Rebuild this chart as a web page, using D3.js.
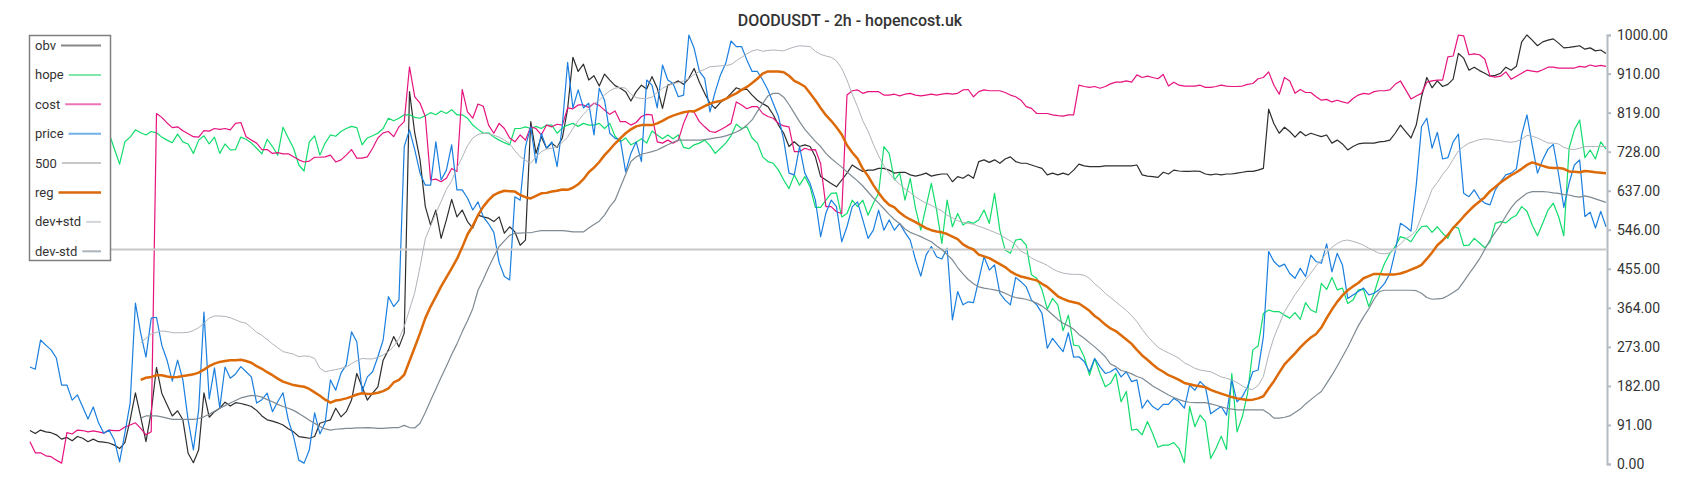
<!DOCTYPE html>
<html>
<head>
<meta charset="utf-8">
<script src="https://cdn.jsdelivr.net/npm/d3@7"></script>
<style>
  body { margin: 0; background: #fff; }
  svg { display: block; font-family: Roboto, "Open Sans", sans-serif; }
</style>
</head>
<body>
<svg width="1700" height="500"></svg>
<script>
var title = "DOODUSDT - 2h - hopencost.uk";

// y axis ticks
var yTicks = [0, 91, 182, 273, 364, 455, 546, 637, 728, 819, 910, 1000];
var level = 500;

// series, one value per 2h candle (300 candles)
var price = [
  226, 221, 289, 277, 266, 247, 184, 184, 149, 161,
  133, 105, 133, 96, 72, 79, 56, 5, 72, 142,
  375, 305, 249, 340, 342, 277, 242, 193, 242, 196,
  103, 33, 126, 354, 152, 224, 131, 226, 200, 210,
  227, 215, 203, 142, 150, 165, 122, 145, 166, 103,
  64, 9, 2, 33, 119, 70, 96, 196, 172, 212,
  231, 308, 285, 169, 203, 215, 250, 289, 390, 367,
  382, 740, 779, 732, 678, 650, 650, 751, 662, 685,
  744, 639, 639, 620, 592, 611, 576, 560, 540, 470,
  437, 429, 623, 615, 740, 786, 701, 771, 736, 751,
  693, 790, 936, 830, 872, 830, 841, 767, 876, 848,
  771, 759, 756, 681, 724, 751, 705, 895, 883, 830,
  930, 895, 887, 856, 860, 1000, 969, 915, 899, 821,
  868, 907, 934, 986, 973, 973, 942, 915, 915, 895,
  872, 841, 810, 755, 678, 674, 740, 678, 654, 615,
  530, 585, 615, 600, 518, 553, 600, 611, 569, 526,
  545, 592, 545, 569, 545, 561, 540, 522, 476, 438,
  487, 507, 483, 478, 503, 336, 402, 371, 378, 376,
  429, 483, 452, 464, 398, 382, 371, 435, 425, 413,
  382, 371, 351, 270, 293, 277, 262, 306, 249, 250,
  239, 215, 246, 227, 211, 215, 223, 203, 215, 192,
  196, 130, 149, 134, 126, 139, 139, 153, 145, 130,
  184, 172, 192, 180, 117, 126, 134, 114, 196, 145,
  157, 180, 215, 219, 297, 495, 472, 460, 466, 444,
  433, 456, 437, 487, 472, 468, 513, 448, 491, 464,
  386, 394, 402, 410, 394, 398, 407, 421, 444, 495,
  561, 553, 543, 650, 786, 806, 736, 773, 711, 714,
  751, 769, 631, 623, 639, 619, 608, 604, 639, 658,
  674, 678, 688, 767, 814, 744, 678, 709, 734, 745,
  676, 598, 655, 697, 709, 577, 587, 550, 589, 553
];

var hope = [
  760, 755, 765, 770, 760, 750, 765, 772, 768, 760,
  755, 770, 762, 758, 765, 771, 735, 699, 751, 762,
  779, 772, 767, 775, 772, 762, 755, 749, 769, 751,
  746, 724, 755, 765, 746, 762, 724, 746, 732, 733,
  762, 757, 748, 736, 723, 757, 740, 720, 785, 760,
  736, 697, 683, 751, 765, 720, 748, 767, 764, 775,
  782, 787, 784, 744, 760, 765, 771, 782, 806, 800,
  806, 814, 814, 808, 806, 812, 819, 814, 823, 817,
  826, 814, 814, 806, 790, 780, 771, 772, 762, 755,
  749, 744, 782, 782, 786, 782, 787, 782, 790, 790,
  771, 783, 790, 794, 787, 794, 790, 790, 794, 782,
  794, 764, 751, 760, 744, 750, 758, 748, 776, 767,
  758, 767, 758, 767, 738, 735, 744, 748, 755, 742,
  724, 736, 748, 765, 792, 782, 786, 760, 748, 716,
  705, 701, 685, 662, 642, 674, 650, 670, 646, 598,
  598, 615, 631, 632, 576, 584, 615, 600, 615, 580,
  608, 631, 740, 724, 662, 678, 615, 666, 596, 545,
  600, 654, 592, 514, 615, 553, 584, 557, 565, 561,
  569, 592, 561, 631, 545, 499, 491, 522, 524, 510,
  441, 433, 406, 361, 386, 371, 311, 347, 277, 275,
  250, 207, 246, 211, 180, 188, 211, 145, 169, 79,
  81, 68, 99, 71, 39, 44, 44, 50, 36, 3,
  134, 87, 114, 99, 13, 36, 65, 34, 211, 75,
  110, 165, 266, 275, 351, 359, 355, 355, 347, 340,
  353, 337, 376, 359, 353, 421, 407, 435, 406, 410,
  374, 382, 406, 407, 367, 398, 437, 468, 491, 507,
  530, 526, 518, 538, 553, 555, 540, 553, 538, 526,
  553, 550, 509, 510, 526, 515, 504, 518, 561, 565,
  562, 573, 580, 600, 589, 557, 532, 561, 592, 608,
  577, 532, 736, 779, 802, 714, 732, 711, 751, 734
];

var cost = [
  52, 26, 26, 19, 17, 9, 2, 73, 70, 79,
  78, 75, 77, 75, 72, 79, 78, 78, 86, 91,
  96, 83, 68, 75, 817, 808, 795, 784, 786, 777,
  770, 763, 762, 777, 776, 782, 780, 782, 779, 794,
  796, 763, 755, 748, 733, 733, 724, 726, 723, 723,
  716, 709, 704, 706, 715, 715, 716, 720, 704, 709,
  720, 733, 713, 713, 716, 736, 760, 772, 775, 763,
  786, 798, 926, 856, 841, 810, 662, 664, 658, 666,
  689, 682, 873, 821, 806, 839, 834, 790, 771, 794,
  782, 760, 751, 767, 755, 786, 782, 767, 790, 786,
  792, 790, 830, 828, 837, 837, 831, 841, 836, 825,
  815, 823, 798, 798, 790, 796, 810, 815, 814, 751,
  748, 755, 748, 755, 794, 823, 820, 798, 786, 775,
  773, 779, 786, 794, 844, 837, 828, 833, 833, 817,
  810, 806, 794, 788, 786, 728, 728, 736, 732, 733,
  700, 600, 600, 588, 584, 860, 870, 872, 864, 868,
  868, 868, 860, 860, 862, 858, 862, 864, 860, 858,
  860, 862, 860, 862, 864, 862, 864, 872, 873, 856,
  868, 872, 870, 870, 870, 866, 860, 856, 848, 833,
  829, 817, 817, 817, 814, 812, 811, 814, 814, 883,
  880, 878, 880, 876, 880, 886, 890, 890, 893, 890,
  907, 901, 904, 901, 898, 908, 881, 890, 883, 881,
  881, 881, 883, 878, 878, 880, 883, 881, 880, 880,
  881, 885, 887, 898, 901, 914, 883, 862, 901, 893,
  864, 873, 866, 866, 856, 848, 850, 844, 848, 844,
  841, 852, 860, 864, 862, 868, 870, 870, 872, 885,
  893, 872, 851, 858, 864, 890, 893, 895, 895, 949,
  951, 1000, 998, 954, 956, 954, 944, 904, 902, 904,
  914, 897, 904, 911, 918, 916, 914, 919, 925, 925,
  923, 923, 923, 923, 927, 925, 930, 927, 929, 927
];

var obv = [
  78, 71, 79, 75, 73, 68, 58, 62, 54, 64,
  60, 52, 58, 52, 51, 49, 44, 36, 50, 103,
  166, 110, 52, 122, 225, 165, 138, 112, 124, 103,
  25, 3, 33, 166, 109, 122, 130, 144, 135, 143,
  141, 138, 134, 125, 112, 103, 100, 96, 91, 82,
  75, 64, 62, 60, 64, 95, 99, 103, 130, 110,
  122, 149, 211, 180, 149, 165, 180, 242, 266, 297,
  273, 305, 868, 771, 709, 600, 557, 592, 526, 569,
  617, 576, 592, 565, 550, 580, 576, 573, 565, 576,
  538, 553, 541, 510, 522, 798, 724, 763, 736, 748,
  738, 760, 828, 948, 915, 932, 895, 905, 881, 909,
  895, 882, 876, 868, 846, 868, 883, 874, 903, 876,
  829, 883, 887, 893, 885, 899, 922, 890, 864, 841,
  829, 843, 851, 864, 877, 872, 874, 860, 848, 840,
  833, 814, 790, 771, 740, 751, 740, 744, 740, 716,
  670, 662, 654, 646, 662, 678, 697, 689, 682, 685,
  685, 689, 689, 685, 678, 680, 680, 674, 671, 674,
  678, 671, 674, 676, 676, 658, 670, 666, 674, 666,
  705, 709, 703, 709, 701, 711, 716, 705, 701, 701,
  697, 693, 689, 674, 678, 674, 678, 674, 685, 699,
  695, 693, 693, 693, 695, 695, 695, 695, 695, 695,
  697, 674, 671, 670, 668, 680, 676, 685, 683, 682,
  682, 683, 682, 676, 674, 676, 674, 676, 676, 678,
  680, 682, 682, 685, 689, 827, 793, 771, 785, 775,
  762, 775, 765, 771, 767, 763, 767, 748, 755, 746,
  732, 740, 746, 748, 748, 748, 751, 752, 755, 771,
  790, 775, 760, 790, 856, 901, 877, 893, 880, 885,
  897, 957, 946, 918, 925, 917, 911, 904, 906, 911,
  925, 918, 927, 984, 1000, 988, 975, 984, 988, 991,
  981, 970, 971, 973, 975, 967, 970, 963, 965, 957
];

// regression and bands start after the 21 candle warm-up
var warmup = 21;

var reg = [
                                196, 201, 203, 207, 207, 204, 202, 203, 205,
  207, 209, 213, 220, 228, 234, 238, 240, 242, 242,
  243, 240, 236, 228, 222, 214, 207, 199, 192, 188,
  184, 182, 180, 175, 167, 159, 150, 143, 148, 150,
  153, 157, 162, 165, 163, 164, 166, 170, 176, 190,
  196, 208, 240, 272, 305, 340, 367, 390, 414, 435,
  456, 478, 505, 535, 555, 580, 600, 615, 627, 633,
  637, 636, 635, 627, 622, 619, 625, 631, 632, 635,
  637, 640, 639, 644, 652, 664, 680, 691, 704, 720,
  733, 747, 759, 771, 780, 787, 790, 790, 790, 794,
  800, 807, 812, 816, 820, 822, 822, 828, 834, 840,
  844, 846, 851, 858, 864, 872, 879, 888, 898, 910,
  915, 915, 915, 913, 905, 893, 887, 880, 864, 848,
  830, 813, 800, 785, 768, 743, 726, 712, 688, 671,
  650, 632, 616, 604, 598, 586, 577, 570, 564, 557,
  550, 545, 542, 540, 536, 530, 524, 512, 505, 500,
  488, 484, 480, 473, 466, 459, 449, 442, 437, 434,
  431, 428, 420, 413, 402, 391, 385, 380, 377, 374,
  366, 357, 345, 336, 325, 316, 310, 300, 290, 280,
  266, 253, 243, 232, 222, 215, 207, 202, 196, 189,
  186, 183, 181, 179, 173, 168, 164, 160, 156, 153,
  151, 149, 150, 153, 158, 176, 193, 213, 232, 245,
  258, 272, 284, 295, 303, 318, 340, 360, 378, 393,
  405, 414, 422, 433, 438, 443, 443, 442, 442, 442,
  444, 448, 453, 458, 464, 478, 493, 510, 521, 534,
  550, 563, 577, 590, 602, 612, 622, 636, 646, 656,
  665, 673, 680, 688, 697, 703, 699, 695, 691, 690,
  690, 688, 682, 681, 680, 683, 682, 680, 679, 678
];

var devPlus = [
                                283, 293, 303, 307, 310, 309, 306, 306, 306,
  307, 311, 318, 328, 340, 345, 345, 344, 341, 336,
  331, 328, 318, 307, 300, 290, 280, 271, 262, 259,
  256, 250, 252, 251, 246, 223, 215, 218, 220, 223,
  226, 234, 241, 246, 245, 245, 249, 254, 262, 274,
  292, 320, 360, 400, 460, 525, 555, 585, 612, 640,
  660, 690, 715, 742, 760, 768, 771, 770, 766, 762,
  755, 747, 730, 716, 708, 701, 716, 728, 734, 736,
  740, 750, 762, 782, 800, 815, 828, 840, 848, 860,
  870, 876, 878, 876, 862, 854, 852, 852, 855, 866,
  876, 882, 887, 889, 893, 898, 908, 915, 920, 926,
  927, 928, 929, 931, 940, 948, 956, 963, 966, 962,
  964, 965, 964, 963, 968, 972, 975, 974, 973, 962,
  955, 951, 948, 940, 922, 895, 862, 833, 800, 776,
  745, 718, 695, 678, 663, 652, 641, 633, 623, 615,
  608, 603, 596, 590, 580, 574, 567, 563, 561, 559,
  554, 550, 545, 540, 535, 527, 520, 511, 496, 490,
  480, 474, 469, 463, 455, 449, 445, 443, 442, 442,
  440, 433, 420, 410, 398, 388, 378, 368, 358, 346,
  332, 314, 298, 285, 272, 265, 259, 253, 246, 236,
  230, 223, 219, 217, 215, 209, 203, 200, 196, 190,
  182, 175, 174, 183, 204, 255, 295, 325, 355, 375,
  395, 412, 430, 445, 462, 476, 492, 505, 514, 520,
  522, 519, 515, 510, 503, 497, 491, 490, 492, 502,
  513, 525, 532, 545, 577, 608, 640, 656, 675, 690,
  710, 730, 740, 748, 752, 756, 758, 757, 755, 754,
  751, 750, 752, 757, 766, 764, 760, 754, 748, 748,
  746, 738, 734, 733, 736, 740, 740, 740, 740, 740
];

var devMinus = [
                                107, 112, 112, 112, 110, 107, 104, 104, 104,
  104, 104, 106, 110, 116, 123, 130, 136, 142, 148,
  154, 157, 160, 159, 156, 150, 145, 139, 134, 130,
  125, 118, 110, 102, 95, 87, 82, 79, 81, 82,
  83, 83, 84, 84, 85, 84, 83, 83, 84, 85,
  85, 90, 85, 84, 95, 120, 148, 175, 202, 228,
  255, 280, 308, 334, 362, 405, 430, 458, 483, 507,
  520, 533, 538, 538, 539, 539, 542, 544, 544, 544,
  544, 544, 543, 541, 541, 541, 550, 558, 566, 580,
  600, 615, 645, 675, 705, 716, 722, 725, 728, 732,
  738, 744, 750, 755, 755, 755, 755, 755, 756, 758,
  760, 762, 765, 769, 774, 780, 790, 802, 822, 840,
  858, 864, 864, 855, 838, 818, 798, 780, 766, 752,
  740, 724, 712, 702, 692, 681, 670, 660, 648, 634,
  620, 608, 595, 582, 570, 560, 548, 540, 535, 530,
  524, 518, 508, 500, 488, 476, 458, 443, 430, 420,
  413, 410, 408, 406, 403, 398, 392, 388, 386, 384,
  380, 375, 368, 359, 348, 337, 328, 322, 314, 302,
  293, 283, 273, 262, 250, 233, 227, 218, 215, 210,
  204, 200, 191, 182, 175, 168, 161, 155, 150, 146,
  144, 143, 143, 143, 140, 137, 133, 130, 128, 126,
  126, 126, 126, 126, 126, 118, 107, 107, 109, 112,
  120, 128, 140, 150, 160, 169, 188, 207, 228, 250,
  272, 297, 322, 343, 362, 384, 402, 405, 405, 405,
  405, 405, 405, 404, 398, 388, 384, 385, 386, 392,
  400, 408, 425, 443, 460, 478, 500, 522, 540, 557,
  578, 597, 612, 622, 631, 635, 635, 635, 634, 632,
  631, 628, 627, 624, 622, 625, 622, 618, 614, 610
];

reg = Array(warmup).fill(null).concat(reg);
devPlus = Array(warmup).fill(null).concat(devPlus);
devMinus = Array(warmup).fill(null).concat(devMinus);

var svg = d3.select("svg"),
    width = +svg.attr("width"),
    height = +svg.attr("height");

var x = d3.scaleLinear().domain([0, price.length - 1]).range([30, 1606]);
var y = d3.scaleLinear().domain([0, 1000]).range([464, 35]);

svg.append("rect").attr("width", width).attr("height", height).attr("fill", "#fff");

// title
svg.append("text")
    .attr("x", width / 2)
    .attr("y", 26)
    .attr("text-anchor", "middle")
    .attr("font-size", 16)
    .attr("font-weight", 500)
    .attr("fill", "#333")
    .text(title);

var series = [
  { name: "obv",     data: obv,      color: "#2e2e2e", width: 1.2, legend: "#888888", lw: 2 },
  { name: "hope",    data: hope,     color: "#12dc6c", width: 1.2, legend: "#7fe8a9", lw: 2 },
  { name: "cost",    data: cost,     color: "#e6137f", width: 1.2, legend: "#ef74b6", lw: 2 },
  { name: "price",   data: price,    color: "#1a7fdf", width: 1.2, legend: "#74b1ea", lw: 2 },
  { name: "500",     data: null,     color: "#c8c8c8", width: 2,   legend: "#c8c8c8", lw: 2 },
  { name: "reg",     data: reg,      color: "#dd6a08", width: 2.5, legend: "#d9690f", lw: 2.5 },
  { name: "dev+std", data: devPlus,  color: "#aeb4ba", width: 1,   legend: "#d2d6da", lw: 2 },
  { name: "dev-std", data: devMinus, color: "#7e8a93", width: 1.2, legend: "#abb4ba", lw: 2 }
];

var line = d3.line()
    .defined(function(d) { return d != null; })
    .x(function(d, i) { return x(i); })
    .y(function(d) { return y(d); });

var plot = svg.append("g").attr("class", "lines");

series.forEach(function(s) {
  if (s.data == null) {
    plot.append("line")
        .attr("x1", x(0)).attr("x2", x(price.length - 1))
        .attr("y1", y(level)).attr("y2", y(level))
        .attr("stroke", s.color)
        .attr("stroke-width", s.width);
    return;
  }
  plot.append("path")
      .datum(s.data)
      .attr("fill", "none")
      .attr("stroke", s.color)
      .attr("stroke-width", s.width)
      .attr("stroke-linejoin", "round")
      .attr("d", line);
});

// right axis
var axis = svg.append("g")
    .attr("transform", "translate(1607,0)")
    .call(d3.axisRight(y)
        .tickValues(yTicks)
        .tickFormat(d3.format(".2f"))
        .tickSize(4)
        .tickPadding(6));
axis.select(".domain").attr("stroke", "#b3bcc4").attr("stroke-width", 2);
axis.selectAll(".tick line").attr("stroke", "#b3bcc4").attr("stroke-width", 2);
axis.selectAll(".tick text")
    .attr("font-size", 14)
    .attr("font-family", "Roboto, sans-serif")
    .attr("fill", "#333");

// legend
var legend = svg.append("g").attr("class", "legend");
legend.append("rect")
    .attr("x", 29.5).attr("y", 35.5)
    .attr("width", 81).attr("height", 225)
    .attr("fill", "#fff")
    .attr("stroke", "#808080")
    .attr("stroke-width", 1.5);

series.forEach(function(s, i) {
  var cy = 45.5 + i * 29.4;
  var t = legend.append("text")
      .attr("x", 35)
      .attr("y", cy + 4.5)
      .attr("font-size", 13)
      .attr("fill", "#333")
      .text(s.name);
  var tw = t.node().getComputedTextLength();
  legend.append("line")
      .attr("x1", 35 + tw + 5).attr("x2", 101)
      .attr("y1", cy).attr("y2", cy)
      .attr("stroke", s.legend)
      .attr("stroke-width", s.lw);
});
</script>
</body>
</html>
